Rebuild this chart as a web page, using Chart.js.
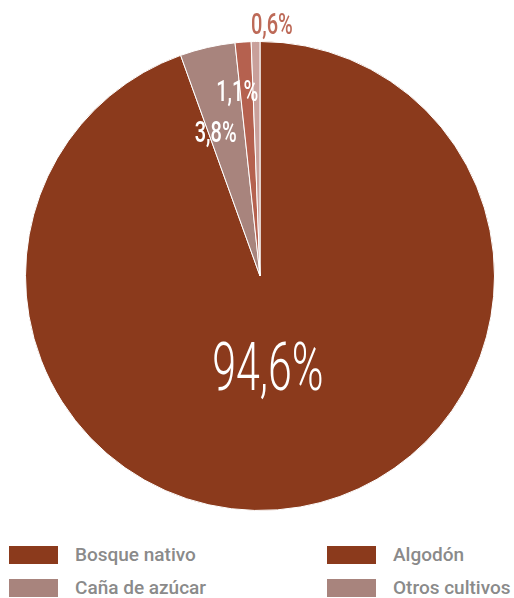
<!DOCTYPE html>
<html>
<head>
<meta charset="utf-8">
<script src="https://cdn.jsdelivr.net/npm/chart.js@4"></script>
<style>
body{margin:0;background:#fff;width:514px;height:598px;overflow:hidden;font-family:Roboto,sans-serif}
#wrap{position:relative;width:514px;height:530px}
#legend{position:absolute;left:0;top:546px;width:514px}
.item{position:absolute;display:flex;align-items:center;height:18px;line-height:18px;font-size:19px;font-weight:500;color:#8a8a8a;white-space:nowrap}
.sw{width:49px;height:18px;margin-right:17px}
</style>
</head>
<body>
<div id="wrap"><canvas id="myChart" width="514" height="530"></canvas></div>
<div id="legend"></div>
<script>
// slices, clockwise from the top
var labels = ["Bosque nativo", "Caña de azúcar", "Algodón", "Otros cultivos"];
var values = [94.6, 3.8, 1.1, 0.6];
var valueText = ["94,6%", "3,8%", "1,1%", "0,6%"];
var sliceColors = ["#8b3a1c", "#a8847d", "#b5614f", "#c9a09b"];

// legend as printed in the source (2 columns)
var legendLabels = ["Bosque nativo", "Algodón", "Caña de azúcar", "Otros cultivos"];
var legendColors = ["#8b3a1c", "#8b3a1c", "#a8847d", "#a8847d"];

var legendDiv = document.getElementById('legend');
for (var i=0;i<legendLabels.length;i++)
{
    var d = document.createElement('div');
    d.className = 'item';
    d.style.left = (i%2==0 ? 9 : 327) + 'px';
    d.style.top = (Math.floor(i/2)*33) + 'px';
    d.innerHTML = '<span class="sw" style="background:'+legendColors[i]+'"></span>'+legendLabels[i];
    legendDiv.appendChild(d);
}

// label placement: radial fraction, angle nudge (deg), font size, weight, colour
var labelStyle = [
    {r:0.418, da:5.3, size:66, sx:0.65, w:300, color:"#fff"},
    {r:0.63, da:-4.5, size:29, sx:0.69, w:500, color:"#fff"},
    {r:0.785, da:-3, size:29, sx:0.69, w:500, color:"#fff"},
    {r:1.065, da:3.8, size:29, sx:0.69, w:500, color:"#bd6a58"}
];

var pieLabels = {
    id: 'pieLabels',
    afterDatasetsDraw: function(chart)
    {
        var ctx = chart.ctx;
        var meta = chart.getDatasetMeta(0);
        meta.data.forEach(function(arc, i)
        {
            var s = labelStyle[i];
            var mid = (arc.startAngle + arc.endAngle)/2 + s.da*Math.PI/180;
            var x = arc.x + Math.cos(mid)*arc.outerRadius*s.r;
            var y = arc.y + Math.sin(mid)*arc.outerRadius*s.r;
            ctx.save();
            ctx.translate(x, y);
            ctx.scale(s.sx, 1);
            ctx.font = s.w + ' ' + s.size + 'px Roboto';
            ctx.fillStyle = s.color;
            ctx.textAlign = 'center';
            ctx.textBaseline = 'middle';
            ctx.fillText(valueText[i], 0, 0);
            ctx.restore();
        });
    }
};

var canvas = document.getElementById('myChart');
var myChart = new Chart(canvas.getContext('2d'),
{
    type: "pie",
    data:
    {
        labels: labels,
        datasets:
        [{
            data: values,
            backgroundColor: sliceColors,
            borderColor: "#fff",
            borderWidth: 1
        }]
    },
    options:
    {
        responsive: false,
        animation: false,
        layout: {padding: {left: 6, top: 41, bottom: 19}},
        plugins:
        {
            legend: {display: false},
            tooltip: {enabled: false}
        }
    },
    plugins: [pieLabels]
});
</script>
</body>
</html>
